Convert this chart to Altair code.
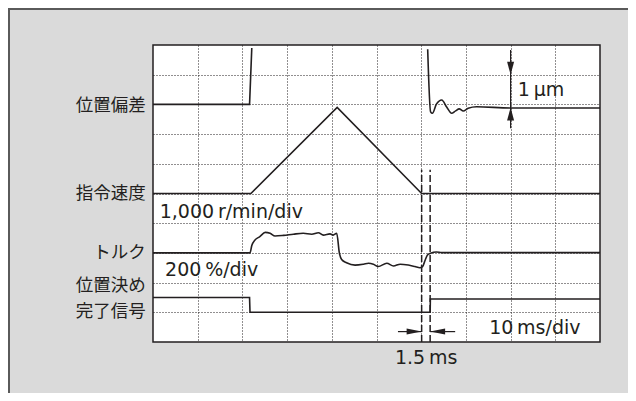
import altair as alt
import pandas as pd

INK = "#231f20"

# --- signal traces (x in ms, 10 ms/div; y in grid divisions, 0 = bottom) ---
pos1_x = [0, 21.6, 22.1]
pos1_y = [8.0, 8.0, 9.9]
pos2_x = [61.45, 62.1, 62.5, 63.4, 64.6, 65.7, 66.8, 67.7, 68.5, 69.4, 70.5, 72.4, 79.9, 100]
pos2_y = [9.86, 7.75, 7.70, 8.01, 8.15, 7.91, 7.70, 7.78, 7.85, 7.78, 7.87, 7.92, 7.88, 7.88]
speed_x = [0, 21.9, 41.2, 60.1, 100]
speed_y = [5.0, 5.0, 7.9, 5.0, 5.0]
torque_x = [0, 21.7, 22.1, 22.8, 23.9, 25.1, 26.2, 27.3, 29.2, 31.4,
            33.6, 35.5, 37.0, 38.1, 39.6, 40.3, 41.1, 41.7, 42.2, 43.3,
            45.2, 47.1, 48.2, 49.3, 50.4, 52.3, 53.8, 55.3, 57.1, 58.6,
            59.7, 60.3, 60.9, 61.4, 62.1, 63.4, 64.6, 100]
torque_y = [3.0, 3.0, 3.25, 3.43, 3.55, 3.69, 3.66, 3.57, 3.59, 3.63,
            3.66, 3.63, 3.68, 3.60, 3.64, 3.60, 3.66, 2.99, 2.78, 2.67,
            2.59, 2.62, 2.65, 2.62, 2.54, 2.65, 2.56, 2.62, 2.59, 2.54,
            2.50, 2.54, 2.76, 2.93, 2.99, 3.03, 3.01, 3.01]
done_x = [0, 21.6, 21.7, 62.0, 62.05, 100]
done_y = [1.5, 1.5, 1.0, 1.0, 1.45, 1.45]

# dashed markers (1.5 ms window)
dash_x = [60.1, 62.0]
dash_y0 = [0.0, 0.0]
dash_y1 = [5.8, 5.8]

# dimension arrows
shaft_x = [54.8, 62.0, 80.0]
shaft_x2 = [60.1, 67.6, 80.0]
shaft_y = [0.35, 0.35, 7.2]
shaft_y2 = [0.35, 0.35, 9.83]

# labels
left_labels = ["位置偏差", "指令速度", "トルク", "位置決め", "完了信号"]
left_label_y = [7.95, 4.98, 3.0, 1.87, 1.02]
left_label_x = [-1.6] * 5

note_text = ["1\u2009μm", "1,000\u2009r/min/div", "200\u2009%/div", "10\u2009ms/div"]
note_x = [81.6, 1.5, 2.7, 75.2]
note_y = [8.48, 4.39, 2.42, 0.47]

dim_text = ["1.5\u2009ms"]
dim_x = [61.1]
dim_y = [-0.54]


def seg(name, xs, ys):
    return pd.DataFrame({"x": xs, "y": ys, "s": name, "o": list(range(len(xs)))})


lin_df = pd.concat([seg("pos1", pos1_x, pos1_y), seg("speed", speed_x, speed_y),
                    seg("done", done_x, done_y)])
smooth_df = pd.concat([seg("pos2", pos2_x, pos2_y), seg("torque", torque_x, torque_y)])

x_scale = alt.Scale(domain=[0, 100], nice=False, zero=False)
y_scale = alt.Scale(domain=[0, 10], nice=False, zero=False)
x_enc = alt.X("x:Q", scale=x_scale,
              axis=alt.Axis(values=list(range(10, 100, 10)), grid=True, labels=False,
                            ticks=False, domain=False, title=None, gridDash=[1, 2],
                            gridColor=INK, gridOpacity=1, gridWidth=1))
y_enc = alt.Y("y:Q", scale=y_scale,
              axis=alt.Axis(values=list(range(1, 10)), grid=True, labels=False,
                            ticks=False, domain=False, title=None, gridDash=[1, 2],
                            gridColor=INK, gridOpacity=1, gridWidth=1))

lines_lin = alt.Chart(lin_df).mark_line(color=INK, strokeWidth=1.6).encode(
    x=x_enc, y=y_enc, detail="s:N", order="o:Q")
lines_smooth = alt.Chart(smooth_df).mark_line(color=INK, strokeWidth=1.6,
                                              interpolate="monotone").encode(
    x=x_enc, y=y_enc, detail="s:N", order="o:Q")

dash_df = pd.DataFrame({"x": dash_x, "y": dash_y0, "y2": dash_y1})
dashes = alt.Chart(dash_df).mark_rule(color=INK, strokeWidth=1.5, strokeDash=[7, 3]).encode(
    x=x_enc, y=y_enc, y2="y2:Q")

shaft_df = pd.DataFrame({"x": shaft_x, "x2": shaft_x2, "y": shaft_y, "y2": shaft_y2})
shafts = alt.Chart(shaft_df).mark_rule(color=INK, strokeWidth=1.2).encode(
    x=x_enc, x2="x2:Q", y=y_enc, y2="y2:Q")


def head(xv, yv, path, size):
    d = pd.DataFrame({"x": [xv], "y": [yv]})
    return alt.Chart(d).mark_point(filled=True, shape=path, size=size, color=INK,
                                   opacity=1, strokeWidth=0).encode(x=x_enc, y=y_enc)


heads = [
    head(dash_x[0] - 1.68, shaft_y[0], "M-1,-0.4L1,0L-1,0.4Z", 225),
    head(dash_x[1] + 1.68, shaft_y[1], "M1,-0.4L-1,0L1,0.4Z", 225),
    head(80.0, 9.0 + 0.22, "M-0.54,-1L0.54,-1L0,1Z", 169),
    head(80.0, 7.9 - 0.22, "M-0.54,1L0.54,1L0,-1Z", 169),
]

left_df = pd.DataFrame({"x": left_label_x, "y": left_label_y, "t": left_labels})
left_txt = alt.Chart(left_df).mark_text(align="right", baseline="middle",
                                        font="Noto Sans CJK JP", fontSize=17.5,
                                        color=INK).encode(x=x_enc, y=y_enc, text="t:N")

note_df = pd.DataFrame({"x": note_x, "y": note_y, "t": note_text})
note_txt = alt.Chart(note_df).mark_text(align="left", baseline="middle",
                                        font="DejaVu Sans", fontSize=19,
                                        color=INK).encode(x=x_enc, y=y_enc, text="t:N")

dim_df = pd.DataFrame({"x": dim_x, "y": dim_y, "t": dim_text})
dim_txt = alt.Chart(dim_df).mark_text(align="center", baseline="middle",
                                      font="DejaVu Sans", fontSize=19,
                                      color=INK).encode(x=x_enc, y=y_enc, text="t:N")

frame_df = pd.DataFrame({"k": [0]})
border_top = alt.Chart(frame_df).mark_rule(color="#5a5a5a", strokeWidth=2).encode(
    x=alt.value(-145), x2=alt.value(475), y=alt.value(-36))
border_left = alt.Chart(frame_df).mark_rule(color="#5a5a5a", strokeWidth=2).encode(
    x=alt.value(-144), y=alt.value(-37), y2=alt.value(348))

chart = alt.layer(
    lines_lin, lines_smooth, dashes, shafts, *heads, left_txt, note_txt, dim_txt,
    border_top, border_left
).properties(
    width=447, height=297,
    autosize=alt.AutoSizeParams(type="none"),
    padding={"left": 145, "top": 37, "right": 28, "bottom": 51},
    background="#dadada",
).configure_view(fill="white", stroke=INK, strokeWidth=1.5)

chart.save("out.html", embed_options={"renderer": "svg", "actions": False})
